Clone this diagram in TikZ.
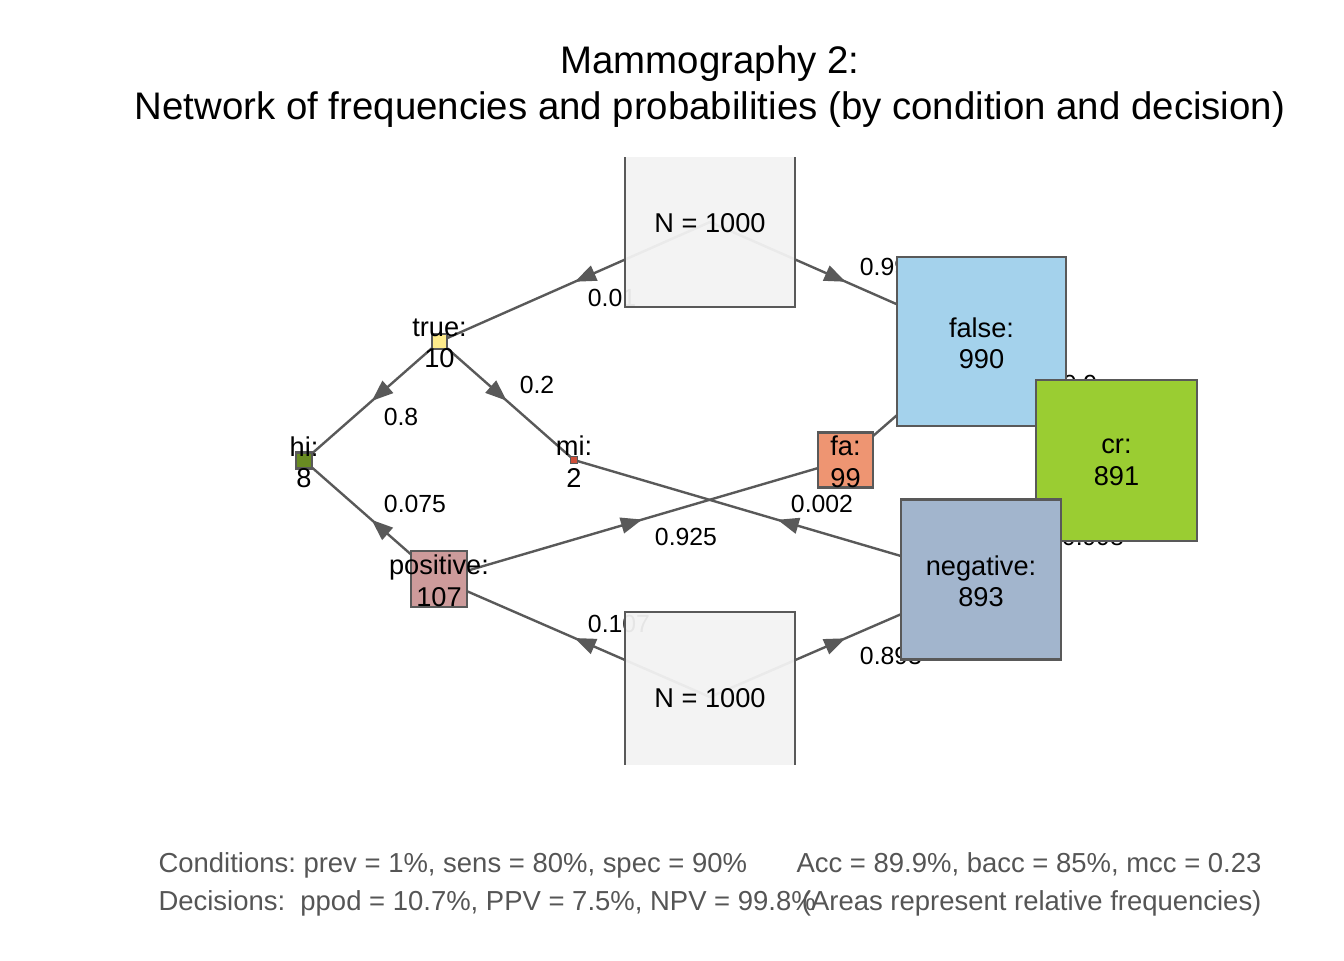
\documentclass[tikz,border=0pt]{standalone}
\usepackage{fontspec}
\setmainfont{Liberation Sans}
\usetikzlibrary{arrows.meta,decorations.markings,backgrounds}
\definecolor{mgrey}{RGB}{89,89,89}
\definecolor{mtext}{RGB}{85,85,85}
\definecolor{cN}{RGB}{242,242,242}
\definecolor{cTrue}{RGB}{255,236,139}
\definecolor{cFalse}{RGB}{164,210,236}
\definecolor{cHi}{RGB}{105,139,34}
\definecolor{cMi}{RGB}{205,79,57}
\definecolor{cFa}{RGB}{238,149,114}
\definecolor{cCr}{RGB}{154,205,50}
\definecolor{cPos}{RGB}{205,155,155}
\definecolor{cNeg}{RGB}{162,181,205}
\frenchspacing

\begin{document}
\begin{tikzpicture}[x=0.375pt, y=-0.375pt,
    freq/.style={draw=mgrey, line width=1pt, inner sep=0pt, minimum size=#1},
    lbl/.style={font=\fontsize{10.2}{11.8}\selectfont, align=center, text=black,
                text opacity=1, inner sep=0pt, yshift=-0.6pt},
    prob/.style={font=\fontsize{9.3}{11}\selectfont, inner sep=0pt},
    arr/.style={mgrey, line width=0.9pt, postaction={decorate},
                decoration={markings,
                  mark=at position 0.5 with {\arrow{Triangle[length=8pt,width=6pt]}}}},
    foot/.style={font=\fontsize{10.3}{12}\selectfont, text=mtext, inner sep=0pt},
    ttl/.style={font=\fontsize{14.4}{17}\selectfont, inner sep=0pt, anchor=base},
  ]
    \useasboundingbox (0,0) rectangle (1344,960);

    \node[ttl] (title1) at (710,73)  {Mammography 2:};
    \node[ttl] (title2) at (710,119) {Network of frequencies and probabilities (by condition and decision)};

    \begin{scope}
      \clip (0,157) rectangle (1344,764);
      \node[freq=63.75pt, fill=cN, fill opacity=0.95,
            label={[lbl]center:N = 1000}]       (ntop)  at (710,222)     {};
      \node[freq=63.75pt, fill=cN, fill opacity=0.95,
            label={[lbl]center:N = 1000}]       (nbot)  at (710,697)     {};
      \node[freq=63.4pt, fill=cFalse,
            label={[lbl]center:{false:\\990}}]   (false) at (981.5,341.5) {};
      \node[freq=60.4pt, fill=cCr,
            label={[lbl]center:{cr:\\891}}]      (cr)    at (1116.5,460.5){};
      \node[freq=60pt, fill=cNeg,
            label={[lbl]center:{negative:\\893}}] (neg)  at (981,579.5)   {};
      \node[freq=20.6pt, fill=cFa,
            label={[lbl]center:{fa:\\99}}]       (fa)    at (845.5,460)   {};
      \node[freq=21pt, fill=cPos,
            label={[lbl]center:{positive:\\107}}] (pos)  at (439,579)     {};
      \node[freq=5.6pt, fill=cTrue,
            label={[lbl]center:{true:\\10}}]     (true)  at (439.5,341.5) {};
      \node[freq=6pt, fill=cHi,
            label={[lbl]center:{hi:\\8}}]        (hi)    at (304,460.5)   {};
      \node[freq=2.6pt, fill=cMi, line width=0.6pt,
            label={[lbl]center:{mi:\\2}}]        (mi)    at (574,460)     {};
    \end{scope}

    \begin{scope}[on background layer]
      \draw[arr] (ntop.center)  -- (true.center);
      \draw[arr] (ntop.center)  -- (false.center);
      \draw[arr] (true.center)  -- (hi.center);
      \draw[arr] (true.center)  -- (mi.center);
      \draw[arr] (false.center) -- (fa.center);
      \draw[arr] (false.center) -- (cr.center);
      \draw[arr] (nbot.center)  -- (pos.center);
      \draw[arr] (nbot.center)  -- (neg.center);
      \draw[arr] (pos.center)   -- (hi.center);
      \draw[arr] (pos.center)   -- (fa.center);
      \draw[arr] (neg.center)   -- (mi.center);
      \draw[arr] (neg.center)   -- (cr.center);

      \node[prob] (pNtrue)  at (612,298)  {0.01};
      \node[prob] (pNfalse) at (884,267)  {0.99};
      \node[prob] (pHi)     at (401,417)  {0.8};
      \node[prob] (pMi)     at (537,385)  {0.2};
      \node[prob] (pCr)     at (1080,384) {0.9};
      \node[prob] (pNpos)   at (619,624)  {0.107};
      \node[prob] (pNneg)   at (891,656)  {0.893};
      \node[prob] (pPPV)    at (415,504)  {0.075};
      \node[prob] (pFa)     at (686,537)  {0.925};
      \node[prob] (pMiNeg)  at (822,504)  {0.002};
      \node[prob] (pNPV)    at (1093,537) {0.998};
    \end{scope}

    \node[foot, anchor=base west] (cond) at (158,872)  {Conditions: prev = 1\%, sens = 80\%, spec = 90\%};
    \node[foot, anchor=base east] (acc)  at (1262,872) {Acc = 89.9\%, bacc = 85\%, mcc = 0.23};
    \node[foot, anchor=base west] (dec)  at (158,910)  {Decisions:\ \ ppod = 10.7\%, PPV = 7.5\%, NPV = 99.8\%};
    \node[foot, anchor=base east] (area) at (1262,910) {(Areas represent relative frequencies)};
  \end{tikzpicture}
\end{document}
